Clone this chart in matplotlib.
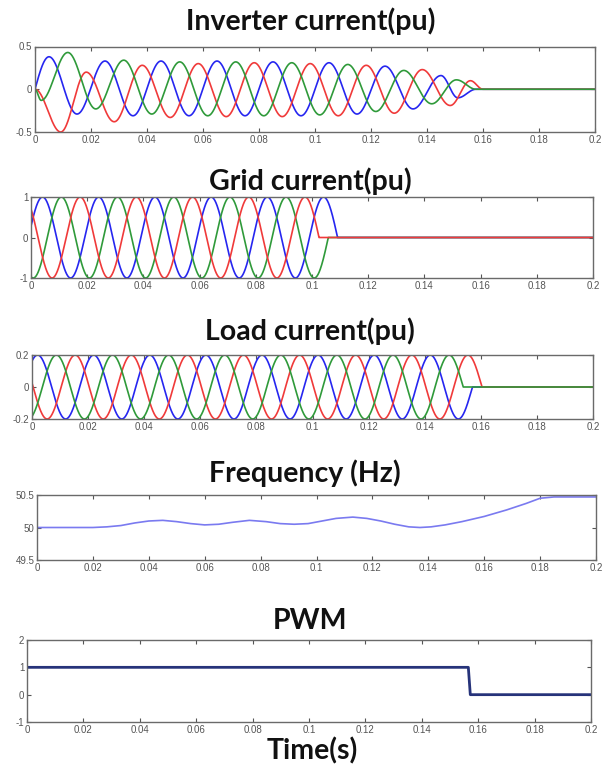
import numpy as np
import matplotlib
matplotlib.use("Agg")
import matplotlib.pyplot as plt

# ---------------- data ----------------
x_ticks = [0, 0.02, 0.04, 0.06, 0.08, 0.1, 0.12, 0.14, 0.16, 0.18, 0.2]
x_tick_labels = ["0", "0.02", "0.04", "0.06", "0.08", "0.1", "0.12", "0.14", "0.16", "0.18", "0.2"]

# Inverter current: extrema (time, value) per phase
inv_blue_t = [-0.005, 0.005, 0.015, 0.025, 0.035, 0.045, 0.055, 0.065, 0.075, 0.085, 0.095,
              0.105, 0.115, 0.125, 0.135, 0.145, 0.151, 0.1575]
inv_blue_v = [-0.38, 0.38, -0.29, 0.33, -0.31, 0.33, -0.31, 0.33, -0.31, 0.32, -0.31,
              0.31, -0.29, 0.27, -0.23, 0.16, -0.10, 0.0]
inv_green_t = [0.0, 0.0022, 0.0117, 0.0217, 0.0317, 0.0417, 0.0517, 0.0617, 0.0717, 0.0817,
               0.0917, 0.1017, 0.1117, 0.1217, 0.1317, 0.1417, 0.1505, 0.1575]
inv_green_v = [0.0, -0.13, 0.43, -0.23, 0.34, -0.29, 0.32, -0.31, 0.32, -0.31,
               0.31, -0.30, 0.29, -0.26, 0.22, -0.17, 0.11, 0.0]
inv_red_t = [0.0, 0.0092, 0.0183, 0.0283, 0.0383, 0.0483, 0.0583, 0.0683, 0.0783, 0.0883,
             0.0983, 0.1083, 0.1183, 0.1283, 0.1383, 0.1483, 0.1555, 0.1600]
inv_red_v = [0.0, -0.50, 0.20, -0.38, 0.28, -0.33, 0.30, -0.32, 0.31, -0.32,
             0.30, -0.31, 0.28, -0.28, 0.23, -0.19, 0.10, 0.0]

# Grid current: amplitude, period, first peak time of each phase, time each phase reaches 0
grid_amp = 1.0
grid_period = 0.02
grid_first_peak = {"blue": 0.0041, "green": 0.0108, "red": 0.0175}
grid_end = {"blue": 0.1091, "green": 0.1058, "red": 0.1025}

# Load current
load_amp = 0.2
load_period = 0.02
load_first_peak = {"blue": 0.0020, "green": 0.0087, "red": 0.0154}
load_end = {"blue": 0.1570, "green": 0.1537, "red": 0.1604}

# Frequency (Hz) samples
freq_t = [0.0, 0.010, 0.020, 0.025, 0.030, 0.035, 0.040, 0.045, 0.050, 0.055, 0.060, 0.065,
          0.070, 0.076, 0.082, 0.087, 0.092, 0.097, 0.102, 0.107, 0.113, 0.118, 0.123,
          0.128, 0.133, 0.137, 0.141, 0.146, 0.152, 0.160, 0.168, 0.175, 0.180, 0.185, 0.190, 0.200]
freq_v = [50.0, 50.0, 50.0, 50.01, 50.03, 50.07, 50.10, 50.11, 50.09, 50.06, 50.04, 50.05,
          50.08, 50.11, 50.09, 50.06, 50.05, 50.06, 50.10, 50.14, 50.16, 50.14, 50.10,
          50.05, 50.01, 50.0, 50.01, 50.04, 50.09, 50.17, 50.27, 50.37, 50.45, 50.47, 50.47, 50.47]

# PWM signal
pwm_t = [0.0, 0.1565, 0.1572, 0.2]
pwm_v = [1, 1, 0, 0]

# ---------------- styling ----------------
C_RED = "#f03a3a"
C_GREEN = "#2f9a3a"
C_BLUE = "#2626f0"
C_FREQ = "#7a7af0"
C_PWM = "#26337a"
TICK_FONT = dict(family="Liberation Sans", size=7, color="#555555")
TITLE_FONT = dict(family="Lato", size=20.5, weight="bold", color="#111111")

W, H = 605, 765
fig = plt.figure(figsize=(W / 100, H / 100), dpi=100)


def add_axes(left, top, right, bottom):
    return fig.add_axes([left / W, 1 - bottom / H, (right - left) / W, (bottom - top) / H])


def extrema_wave(t, kt, kv):
    kt = np.asarray(kt)
    kv = np.asarray(kv)
    out = np.full_like(t, np.nan)
    for i in range(len(kt) - 1):
        m = (t >= kt[i]) & (t <= kt[i + 1])
        f = (t[m] - kt[i]) / (kt[i + 1] - kt[i])
        out[m] = (kv[i] + kv[i + 1]) / 2 + (kv[i] - kv[i + 1]) / 2 * np.cos(np.pi * f)
    out[t > kt[-1]] = 0.0
    return out


def tripped_sine(t, amp, period, peak, end):
    y = amp * np.cos(2 * np.pi * (t - peak) / period)
    y[t > end] = 0.0
    return y


def style(ax, ylim, yticks, ylabels):
    ax.set_xlim(0, 0.2)
    ax.set_ylim(*ylim)
    ax.set_xticks(x_ticks)
    ax.set_xticklabels(x_tick_labels, **TICK_FONT)
    ax.set_yticks(yticks)
    ax.set_yticklabels(ylabels, **TICK_FONT)
    ax.tick_params(direction="in", length=3, width=0.8, color="#555555", top=True, right=True, pad=2)
    for s in ax.spines.values():
        s.set_color("#6a6a6a")
        s.set_linewidth(1.0)


t = np.linspace(0, 0.2, 4001)

# Panel 1: inverter current
ax1 = add_axes(35, 46.5, 595, 132)
ax1.plot(t, extrema_wave(t, inv_blue_t, inv_blue_v), color=C_BLUE, lw=1.2)
ax1.plot(t, extrema_wave(t, inv_red_t, inv_red_v), color=C_RED, lw=1.2)
ax1.plot(t, extrema_wave(t, inv_green_t, inv_green_v), color=C_GREEN, lw=1.2)
style(ax1, (-0.5, 0.5), [-0.5, 0, 0.5], ["-0.5", "0", "0.5"])

# Panel 2: grid current
ax2 = add_axes(31, 197, 593, 278)
for name, col in [("blue", C_BLUE), ("green", C_GREEN), ("red", C_RED)]:
    ax2.plot(t, tripped_sine(t, grid_amp, grid_period, grid_first_peak[name], grid_end[name]), color=col, lw=1.2)
style(ax2, (-1, 1), [-1, 0, 1], ["-1", "0", "1"])

# Panel 3: load current
ax3 = add_axes(32, 355, 593, 419)
for name, col in [("blue", C_BLUE), ("red", C_RED), ("green", C_GREEN)]:
    ax3.plot(t, tripped_sine(t, load_amp, load_period, load_first_peak[name], load_end[name]), color=col, lw=1.2)
style(ax3, (-0.2, 0.2), [-0.2, 0, 0.2], ["-0.2", "0", "0.2"])

# Panel 4: frequency
ax4 = add_axes(37, 495, 596, 560)
ax4.plot(freq_t, freq_v, color=C_FREQ, lw=1.2)
style(ax4, (49.5, 50.5), [49.5, 50, 50.5], ["49.5", "50", "50.5"])

# Panel 5: PWM
ax5 = add_axes(27, 640, 591, 722)
ax5.plot(pwm_t, pwm_v, color=C_PWM, lw=2.0)
style(ax5, (-1, 2), [-1, 0, 1, 2], ["-1", "0", "1", "2"])

# Titles
fig.text(311 / W, 1 - 21 / H, "Inverter current(pu)", ha="center", va="center", **TITLE_FONT)
fig.text(310 / W, 1 - 181 / H, "Grid current(pu)", ha="center", va="center", **TITLE_FONT)
fig.text(310 / W, 1 - 331 / H, "Load current(pu)", ha="center", va="center", **TITLE_FONT)
fig.text(305 / W, 1 - 473 / H, "Frequency (Hz)", ha="center", va="center", **TITLE_FONT)
fig.text(310 / W, 1 - 621 / H, "PWM", ha="center", va="center", **TITLE_FONT)
fig.text(312 / W, 1 - 751 / H, "Time(s)", ha="center", va="center", **TITLE_FONT)

fig.savefig("out.png", dpi=100)
